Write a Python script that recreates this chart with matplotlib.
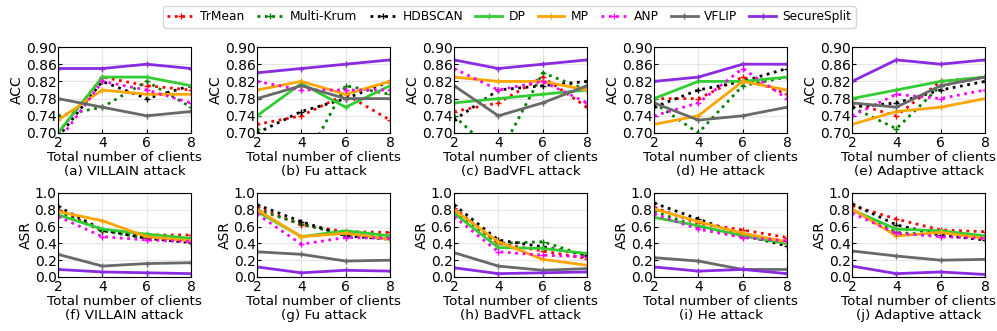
import matplotlib.pyplot as plt

clients = [2, 4, 6, 8]
methods = ["TrMean", "Multi-Krum", "HDBSCAN", "DP", "MP", "ANP", "VFLIP", "SecureSplit"]
colors = ["red", "green", "black", "limegreen", "orange", "magenta", "dimgray", "blueviolet"]
styles = [":", ":", ":", "-", "-", ":", "-", "-"]

attacks = ["VILLAIN", "Fu", "BadVFL", "He", "Adaptive"]

# ACC per attack, rows follow `methods`
acc_villain = [[0.70, 0.83, 0.81, 0.80], [0.74, 0.76, 0.82, 0.76], [0.69, 0.82, 0.78, 0.81],
               [0.70, 0.83, 0.83, 0.81], [0.73, 0.80, 0.79, 0.79], [0.68, 0.82, 0.80, 0.77],
               [0.78, 0.76, 0.74, 0.75], [0.85, 0.85, 0.86, 0.85]]
acc_fu = [[0.72, 0.74, 0.79, 0.73], [0.71, 0.62, 0.81, 0.79], [0.70, 0.75, 0.78, 0.82],
          [0.74, 0.815, 0.76, 0.81], [0.80, 0.82, 0.79, 0.82], [0.82, 0.80, 0.80, 0.80],
          [0.78, 0.81, 0.78, 0.78], [0.84, 0.85, 0.86, 0.87]]
acc_badvfl = [[0.75, 0.77, 0.83, 0.76], [0.74, 0.645, 0.84, 0.80], [0.73, 0.80, 0.81, 0.82],
              [0.77, 0.78, 0.79, 0.80], [0.83, 0.82, 0.82, 0.80], [0.85, 0.80, 0.82, 0.77],
              [0.81, 0.74, 0.77, 0.81], [0.87, 0.85, 0.86, 0.87]]
acc_he = [[0.78, 0.78, 0.83, 0.79], [0.77, 0.70, 0.81, 0.83], [0.76, 0.80, 0.82, 0.85],
          [0.78, 0.82, 0.82, 0.83], [0.72, 0.74, 0.82, 0.80], [0.74, 0.77, 0.85, 0.78],
          [0.77, 0.73, 0.74, 0.76], [0.82, 0.83, 0.86, 0.86]]
acc_adaptive = [[0.77, 0.74, 0.82, 0.83], [0.76, 0.71, 0.81, 0.83], [0.76, 0.77, 0.80, 0.82],
                [0.78, 0.80, 0.82, 0.83], [0.72, 0.75, 0.76, 0.78], [0.74, 0.79, 0.78, 0.80],
                [0.77, 0.76, 0.81, 0.83], [0.82, 0.87, 0.86, 0.87]]

# ASR per attack
asr_villain = [[0.80, 0.55, 0.50, 0.50], [0.78, 0.55, 0.46, 0.43], [0.84, 0.56, 0.46, 0.41],
               [0.74, 0.57, 0.51, 0.46], [0.78, 0.67, 0.48, 0.43], [0.72, 0.48, 0.44, 0.42],
               [0.27, 0.13, 0.16, 0.17], [0.09, 0.06, 0.05, 0.04]]
asr_fu = [[0.83, 0.62, 0.54, 0.53], [0.80, 0.63, 0.50, 0.47], [0.86, 0.66, 0.49, 0.45],
          [0.78, 0.48, 0.55, 0.49], [0.80, 0.48, 0.52, 0.45], [0.75, 0.39, 0.47, 0.46],
          [0.30, 0.27, 0.19, 0.20], [0.12, 0.05, 0.08, 0.07]]
asr_badvfl = [[0.82, 0.40, 0.31, 0.22], [0.78, 0.40, 0.42, 0.25], [0.86, 0.44, 0.36, 0.26],
              [0.76, 0.35, 0.34, 0.28], [0.80, 0.42, 0.21, 0.14], [0.72, 0.30, 0.26, 0.24],
              [0.29, 0.13, 0.08, 0.10], [0.11, 0.04, 0.05, 0.06]]
asr_he = [[0.83, 0.64, 0.56, 0.47], [0.78, 0.60, 0.48, 0.40], [0.88, 0.69, 0.50, 0.37],
          [0.71, 0.61, 0.49, 0.40], [0.81, 0.66, 0.52, 0.42], [0.75, 0.57, 0.47, 0.43],
          [0.23, 0.19, 0.09, 0.09], [0.12, 0.07, 0.09, 0.04]]
asr_adaptive = [[0.85, 0.69, 0.56, 0.54], [0.80, 0.53, 0.50, 0.46], [0.87, 0.62, 0.50, 0.44],
                [0.80, 0.57, 0.55, 0.49], [0.81, 0.49, 0.53, 0.46], [0.76, 0.52, 0.48, 0.46],
                [0.31, 0.25, 0.20, 0.21], [0.13, 0.04, 0.06, 0.03]]

acc_all = [acc_villain, acc_fu, acc_badvfl, acc_he, acc_adaptive]
asr_all = [asr_villain, asr_fu, asr_badvfl, asr_he, asr_adaptive]
letters = "abcdefghij"

fig = plt.figure(figsize=(9.97, 3.31), dpi=100)
W, H = 997, 331
lefts = [58, 257, 454, 654, 852]
aw = 133
rows = [(47, 133), (193, 277)]

handles = []
for r, (top, bot) in enumerate(rows):
    for c in range(5):
        ax = fig.add_axes([lefts[c] / W, 1 - bot / H, aw / W, (bot - top) / H])
        data = acc_all[c] if r == 0 else asr_all[c]
        for i, m in enumerate(methods):
            ln, = ax.plot(clients, data[i], linestyle=styles[i], color=colors[i], lw=2,
                          marker="+", ms=4, mew=1, label=m)
            if r == 0 and c == 0:
                handles.append(ln)
        ax.set_xlim(2, 8)
        ax.set_xticks(clients)
        if r == 0:
            ax.set_ylim(0.70, 0.90)
            ax.set_yticks([0.70, 0.74, 0.78, 0.82, 0.86, 0.90])
            ax.set_yticklabels(["0.70", "0.74", "0.78", "0.82", "0.86", "0.90"])
            ax.set_ylabel("ACC", fontsize=10, labelpad=1)
        else:
            ax.set_ylim(0, 1.0)
            ax.set_yticks([0, 0.2, 0.4, 0.6, 0.8, 1.0])
            ax.set_yticklabels(["0.0", "0.2", "0.4", "0.6", "0.8", "1.0"])
            ax.set_ylabel("ASR", fontsize=10, labelpad=1)
        ax.grid(True, color="#e6e6e6", lw=0.8)
        ax.tick_params(direction="in", labelsize=10, pad=1, length=3)
        ax.tick_params(axis="x", pad=2)
        ax.set_xlabel("Total number of clients\n(%s) %s attack" % (letters[r * 5 + c], attacks[c]),
                      fontsize=9.7, labelpad=1, linespacing=1.05)

fig.legend(handles=handles, loc="upper center", bbox_to_anchor=(0.511, 1.0), ncol=8,
           fontsize=8.8, frameon=True, handlelength=2.2, columnspacing=1.0, handletextpad=0.5,
           borderpad=0.35, numpoints=1)
fig.savefig("out.png", dpi=100)
